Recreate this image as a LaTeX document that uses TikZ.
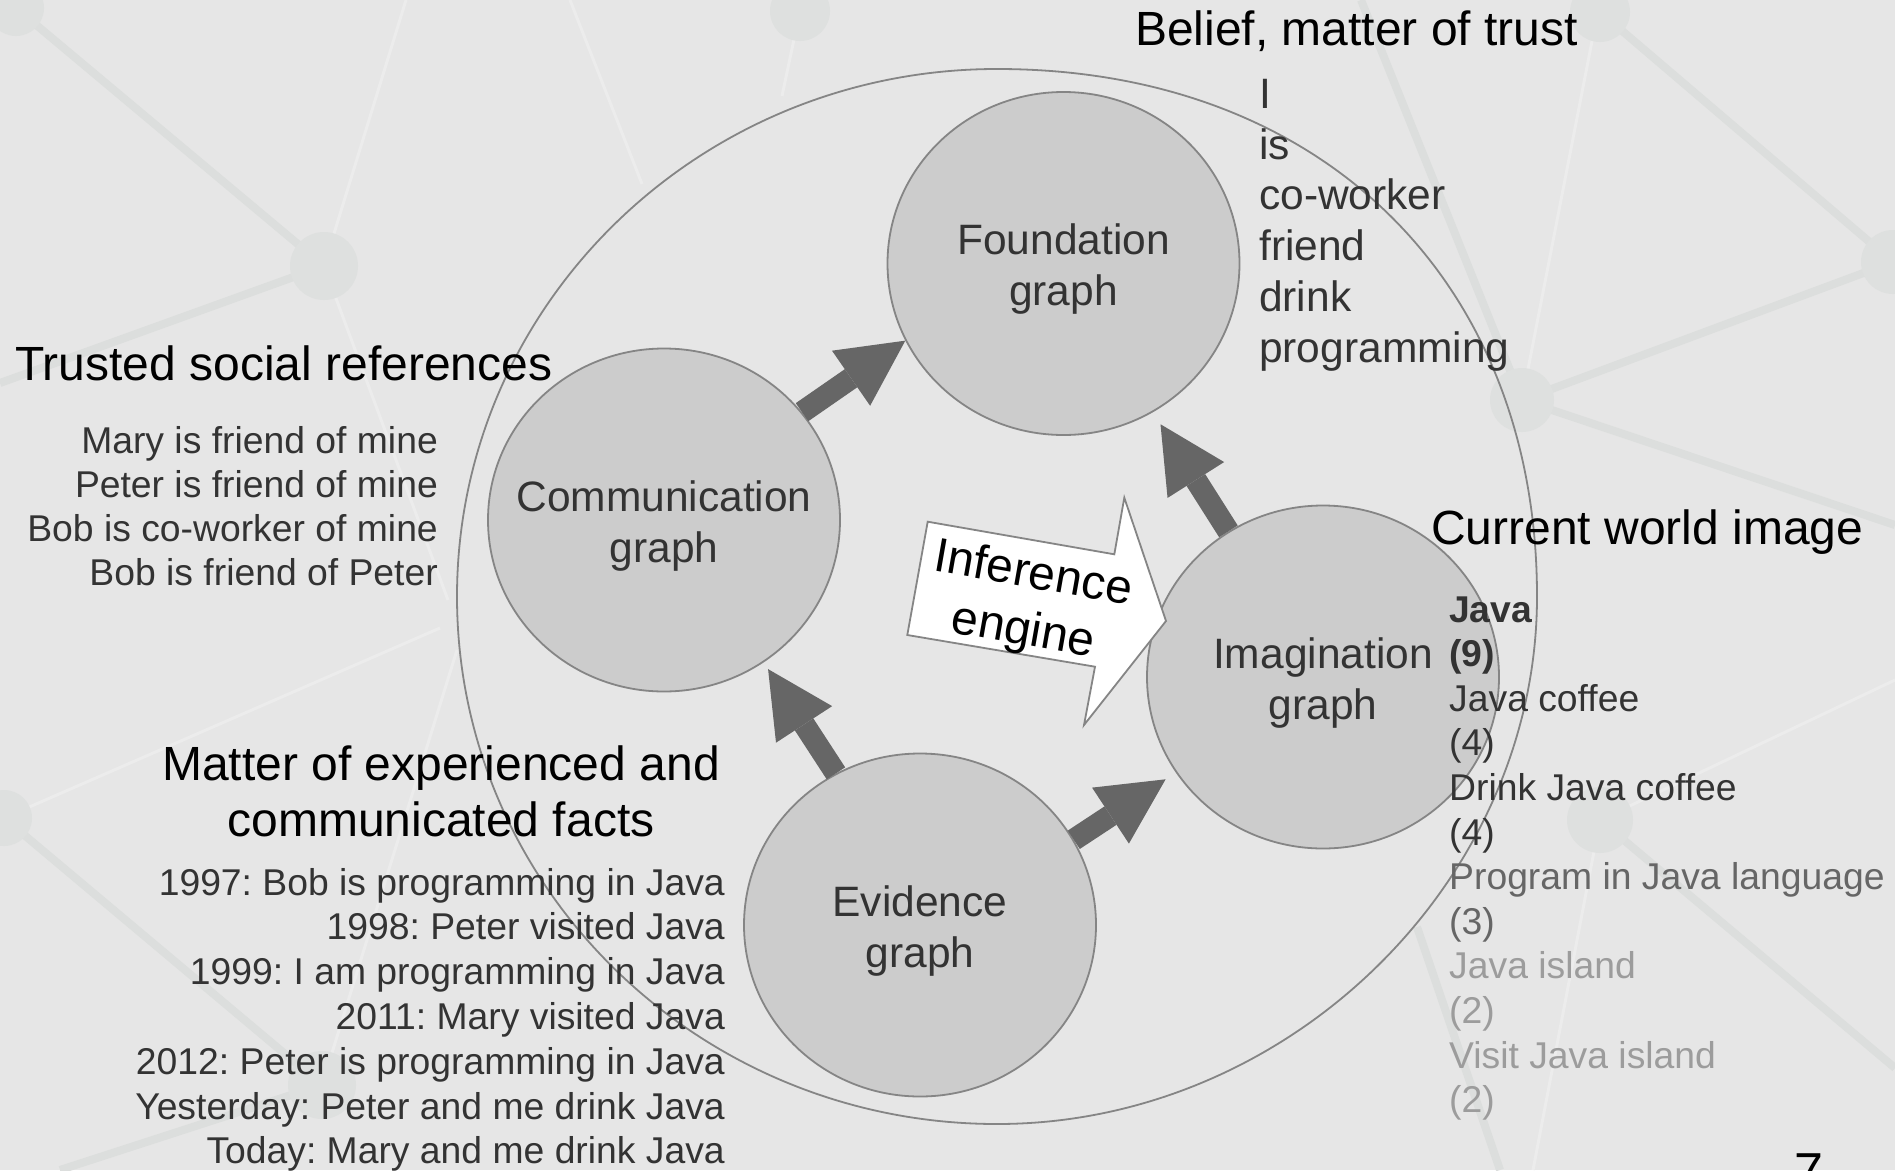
\documentclass[tikz,border=0pt]{standalone}
\usepackage{fontspec}
\setmainfont{Liberation Sans}
\usetikzlibrary{arrows.meta,shapes.geometric}
\definecolor{bgcol}{HTML}{E6E6E6}
\definecolor{netdark}{HTML}{DCDEDD}
\definecolor{netlight}{HTML}{ECECEC}
\definecolor{netnode}{HTML}{DEE0DF}
\definecolor{circfill}{HTML}{CCCCCC}
\definecolor{edgecol}{HTML}{858585}
\definecolor{arrowcol}{HTML}{666666}
\definecolor{txtcol}{HTML}{333333}
\definecolor{midcol}{HTML}{666666}
\definecolor{palecol}{HTML}{9C9C9C}
\newcommand\myHfont{\fontsize{48pt}{57.6pt}\selectfont}
\newcommand\myBfont{\fontsize{37.3pt}{44.7pt}\selectfont}
\newcommand\myCfont{\fontsize{42.5pt}{51pt}\selectfont}
\begin{document}
\frenchspacing
\begin{tikzpicture}[x=1pt,y=-1pt,
  graphnode/.style={ellipse, draw=edgecol, line width=1.8pt, fill=circfill,
    minimum width=352pt, minimum height=343pt, inner sep=0pt},
  graphlabel/.style={inner sep=0pt, align=center, text=txtcol, font=\myCfont},
  bigarrow/.style={draw=arrowcol, line width=22pt,
    -{Triangle[length=66pt,width=67pt,line width=0pt]}},
  heading/.style={inner sep=0pt, font=\myHfont, text=black},
  body/.style={inner sep=0pt, font=\myBfont, text=txtcol},
  belief/.style={inner sep=0pt, font=\myCfont, text=txtcol, anchor=base west},
  listitem/.style={inner sep=0pt, font=\myBfont, anchor=base west},
  netthick/.style={draw=netdark, line width=8pt},
  netthin/.style={draw=netlight, line width=3pt},
  outline/.style={draw=edgecol, line width=1.8pt}
]
\useasboundingbox (0,0) rectangle (1895,1170);
\clip (0,0) rectangle (1895,1170);
\fill[bgcol] (0,0) rectangle (1895,1170);

% background network
\draw[netthick] (16,8) -- (324,266) -- (0,383);
\draw[netthin] (324,266) -- (406,0);
\draw[netthin] (324,266) -- (448,600);
\draw[netthin] (570,0) -- (642,184);
\draw[netthin] (800,11) -- (782,96);
\draw[netthin] (4,818) -- (440,628);
\draw[netthick] (4,818) -- (322,1085) -- (60,1170);
\draw[netthin] (322,1085) -- (457,650);
\draw[netthick] (1361,0) -- (1522,400) -- (1893,262) -- (1600,12);
\draw[netthick] (1522,400) -- (1895,525);
\draw[netthin] (1522,400) -- (1600,0);
\draw[netthin] (1600,820) -- (1895,680);
\draw[netthick] (1600,820) -- (1895,1068);
\draw[netthin] (1600,820) -- (1533,1170);
\draw[netthick] (1417,927) -- (1500,1170);
\fill[netnode] (324,266) circle[radius=34];
\fill[netnode] (800,11) circle[radius=30];
\fill[netnode] (1600,12) circle[radius=30];
\fill[netnode] (1522,400) circle[radius=32];
\fill[netnode] (1893,262) circle[radius=32];
\fill[netnode] (1600,820) circle[radius=33];
\fill[netnode] (4,818) circle[radius=28];
\fill[netnode] (16,8) circle[radius=28];
\fill[netnode] (322,1085) circle[radius=34];

% outer outline
\draw[outline] (997,69) .. controls (1321,69) and (1537,280) .. (1537,596.5)
  .. controls (1537,881.4) and (1288.6,1124) .. (997,1124)
  .. controls (698.8,1124) and (457,887.8) .. (457,596.5)
  .. controls (457,305.2) and (698.8,69) .. (997,69) -- cycle;

% graph nodes
\node[graphnode, label={[graphlabel]center:{\rule{0pt}{42.6pt}Foundation\\graph}}] (found) at (1063.5,263.5) {};
\node[graphnode, label={[graphlabel]center:{\rule{0pt}{42.6pt}Communication\\graph}}] (comm) at (664,520) {};
\node[graphnode, label={[graphlabel]center:{\rule{0pt}{42.6pt}Imagination\\graph}}] (imag) at (1323,677) {};
\node[graphnode, label={[graphlabel]center:{\rule{0pt}{42.6pt}Evidence\\graph}}] (evid) at (920,925) {};

% block arrows
\draw[bigarrow] (comm.38.25) -- (found.206.35);
\draw[bigarrow, shorten >=14.2pt] (imag.123.9) -- (found.301.4);
\draw[bigarrow, shorten >=8pt] (evid.119.6) -- (comm.305.85);
\draw[bigarrow, shorten >=12.2pt] (evid.29.74) -- (imag.213.2);

% inference engine arrow
\draw[draw=edgecol, line width=1.8pt, fill=white, line join=miter]
  (927.7,521.7) -- (1114.3,554.3) -- (1124.3,497.7) -- (1166,621)
  -- (1084,725) -- (1095,666.7) -- (907.3,635) -- cycle;
\node[heading, align=center, rotate=-10] (infer) at (1028,604) {Inference\\engine};

% headings
\node[heading, anchor=base west] (belief) at (1135,45) {Belief, matter of trust};
\node[heading, anchor=base west] (trusted) at (15,380) {Trusted social references};
\node[heading, anchor=base] (matter1) at (441,780) {Matter of experienced and};
\node[heading, anchor=base] (matter2) at (441,836.5) {communicated facts};
\node[heading, anchor=base west] (current) at (1431,544) {Current world image};

% belief list
\node[belief] (b1) at (1259,108.5) {I};
\node[belief] (b2) at (1259,159.2) {is};
\node[belief] (b3) at (1259,209.9) {co-worker};
\node[belief] (b4) at (1259,260.6) {friend};
\node[belief] (b5) at (1259,311.3) {drink};
\node[belief] (b6) at (1259,362) {programming};

% trusted references
\node[body, anchor=base east] (r1) at (438,453.5) {Mary is friend of mine};
\node[body, anchor=base east] (r2) at (438,497.5) {Peter is friend of mine};
\node[body, anchor=base east] (r3) at (438,541.5) {Bob is co-worker of mine};
\node[body, anchor=base east] (r4) at (438,585.5) {Bob is friend of Peter};

% facts
\foreach [count=\i from 0] \t in {1997: Bob is programming in Java,
  1998: Peter visited Java, 1999: I am programming in Java,
  2011: Mary visited Java, 2012: Peter is programming in Java,
  Yesterday: Peter and me drink Java, Today: Mary and me drink Java}
  \node[body, anchor=base east] (fact\i) at (725,{895+44.8*\i}) {\t};

% current world image list
\node[listitem, text=txtcol, font=\myBfont\bfseries] (w1) at (1449,622) {Java};
\node[listitem, text=txtcol, font=\myBfont\bfseries] (w2) at (1449,666.6) {(9)};
\node[listitem, text=txtcol] (w3) at (1449,711.2) {Java coffee};
\node[listitem, text=txtcol] (w4) at (1449,755.8) {(4)};
\node[listitem, text=txtcol] (w5) at (1449,800.4) {Drink Java coffee};
\node[listitem, text=txtcol] (w6) at (1449,845) {(4)};
\node[listitem, text=midcol] (w7) at (1449,889.6) {Program in Java language};
\node[listitem, text=midcol] (w8) at (1449,934.2) {(3)};
\node[listitem, text=palecol] (w9) at (1449,978.8) {Java island};
\node[listitem, text=palecol] (w10) at (1449,1023.4) {(2)};
\node[listitem, text=palecol] (w11) at (1449,1068) {Visit Java island};
\node[listitem, text=palecol] (w12) at (1449,1112.6) {(2)};

% slide number
\node[inner sep=0pt, anchor=base west, font=\fontsize{52pt}{60pt}\selectfont] (pagenum) at (1794,1189) {7};
\end{tikzpicture}
\end{document}
